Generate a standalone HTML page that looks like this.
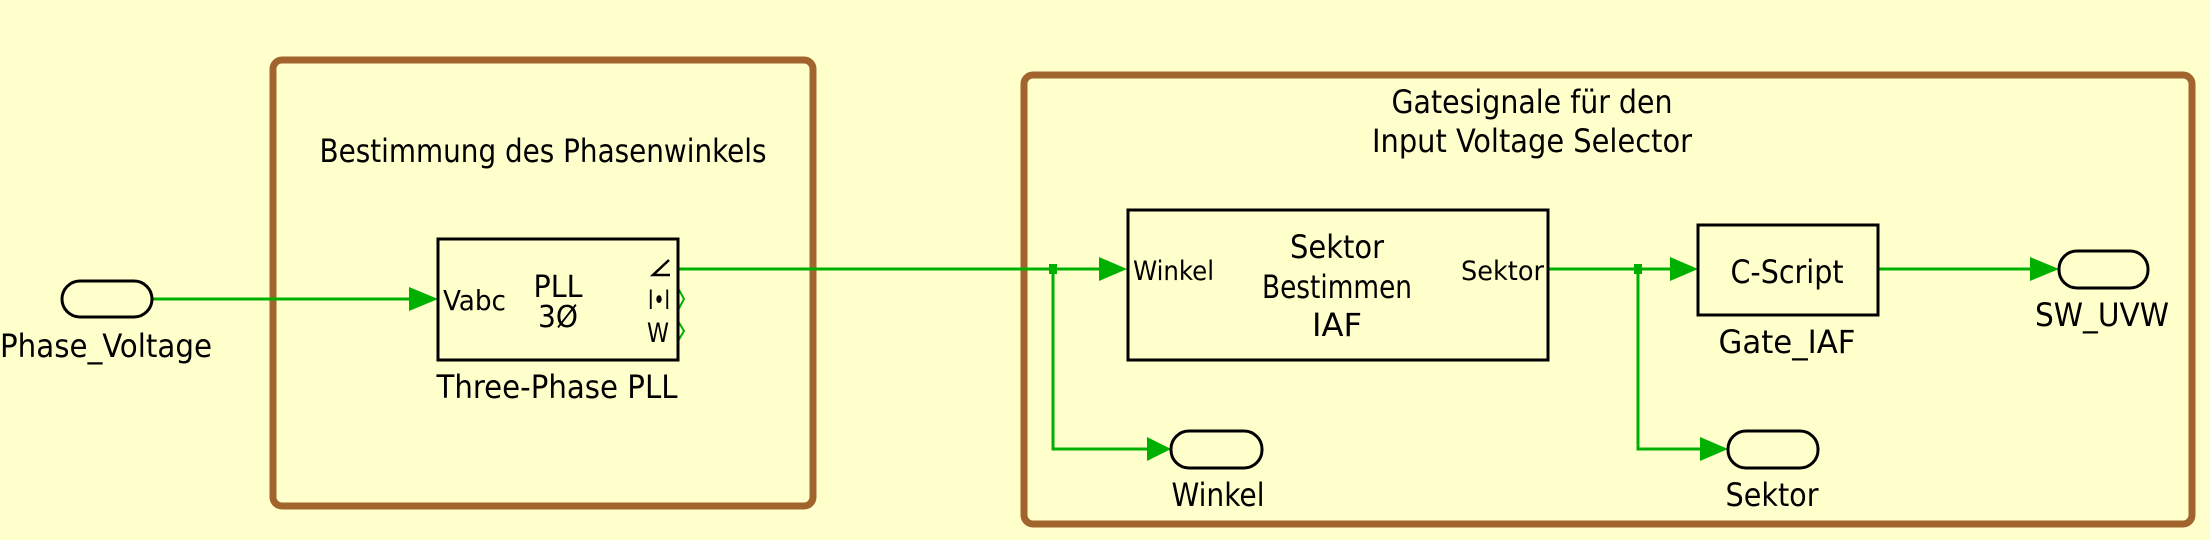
<!DOCTYPE html>
<html><head><meta charset="utf-8"><style>
html,body{margin:0;padding:0;background:#ffffcc;}
svg{display:block}
text{font-family:"DejaVu Sans Condensed","DejaVu Sans","Liberation Sans",sans-serif;fill:#000;}
</style></head><body>
<svg width="2210" height="540" viewBox="0 0 2210 540" xmlns="http://www.w3.org/2000/svg">
<rect width="2210" height="540" fill="#ffffcc"/>
<rect x="273" y="60" width="540" height="446" rx="9" fill="none" stroke="#a0642c" stroke-width="7"/>
<rect x="1024" y="75" width="1168" height="449" rx="9" fill="none" stroke="#a0642c" stroke-width="7"/>
<text x="543" y="162" font-size="32" text-anchor="middle" textLength="447" lengthAdjust="spacingAndGlyphs">Bestimmung des Phasenwinkels</text>
<text x="1532" y="113" font-size="32" text-anchor="middle" textLength="281" lengthAdjust="spacingAndGlyphs">Gatesignale für den</text>
<text x="1532" y="152" font-size="32" text-anchor="middle" textLength="320" lengthAdjust="spacingAndGlyphs">Input Voltage Selector</text>

<g stroke="#00b000" stroke-width="3" fill="none">
<line x1="152" y1="299" x2="412" y2="299"/>
<line x1="678" y1="269" x2="1102" y2="269"/>
<polyline points="1053,269 1053,449 1150,449"/>
<line x1="1548" y1="269" x2="1672" y2="269"/>
<polyline points="1638,269 1638,449 1700,449"/>
<line x1="1878" y1="269" x2="2032" y2="269"/>
<polyline points="678,288 684,299 678,310" stroke-width="2"/>
<polyline points="678,321 684,331 678,341" stroke-width="2"/>
</g>
<g fill="#00b000">
<polygon points="409,287 438,299 409,311"/>
<polygon points="1099,257 1127,269 1099,281"/>
<polygon points="1147,437 1171,449 1147,461"/>
<polygon points="1670,257 1698,269 1670,281"/>
<polygon points="1700,437 1728,449 1700,461"/>
<polygon points="2030,257 2059,269 2030,281"/>
<rect x="1049" y="264" width="8" height="10"/>
<rect x="1634" y="264" width="8" height="10"/>
</g>

<g fill="none" stroke="#000" stroke-width="3">
<rect x="62" y="281" width="90" height="36" rx="18"/>
<rect x="1171" y="431" width="91" height="37" rx="18"/>
<rect x="1728" y="431" width="90" height="37" rx="18"/>
<rect x="2059" y="251" width="89" height="37" rx="18"/>
<rect x="438" y="239" width="240" height="121"/>
<rect x="1128" y="210" width="420" height="150"/>
<rect x="1698" y="225" width="180" height="90"/>
</g>

<text x="106" y="357" font-size="32" text-anchor="middle" textLength="212" lengthAdjust="spacingAndGlyphs">Phase_Voltage</text>
<text x="557" y="398" font-size="32" text-anchor="middle" textLength="241" lengthAdjust="spacingAndGlyphs">Three-Phase PLL</text>
<text x="443" y="310" font-size="28" textLength="63" lengthAdjust="spacingAndGlyphs">Vabc</text>
<text x="558" y="297" font-size="30" text-anchor="middle" textLength="49" lengthAdjust="spacingAndGlyphs">PLL</text>
<text x="558" y="327" font-size="30" text-anchor="middle" textLength="40" lengthAdjust="spacingAndGlyphs">3Ø</text>
<polyline points="669,260 653,275 670,275" fill="none" stroke="#000" stroke-width="2.5"/>
<text x="648" y="309" font-size="27" textLength="22" lengthAdjust="spacingAndGlyphs">I•I</text>
<text x="647" y="342" font-size="27" textLength="22" lengthAdjust="spacingAndGlyphs">W</text>

<text x="1133" y="280" font-size="27" textLength="81" lengthAdjust="spacingAndGlyphs">Winkel</text>
<text x="1544" y="280" font-size="27" text-anchor="end" textLength="83" lengthAdjust="spacingAndGlyphs">Sektor</text>
<text x="1337" y="258" font-size="32" text-anchor="middle" textLength="94" lengthAdjust="spacingAndGlyphs">Sektor</text>
<text x="1337" y="298" font-size="32" text-anchor="middle" textLength="150" lengthAdjust="spacingAndGlyphs">Bestimmen</text>
<text x="1337" y="336" font-size="32" text-anchor="middle" textLength="50" lengthAdjust="spacingAndGlyphs">IAF</text>

<text x="1787" y="283" font-size="32" text-anchor="middle" textLength="113" lengthAdjust="spacingAndGlyphs">C-Script</text>
<text x="1787" y="353" font-size="32" text-anchor="middle" textLength="137" lengthAdjust="spacingAndGlyphs">Gate_IAF</text>
<text x="2102" y="326" font-size="32" text-anchor="middle" textLength="134" lengthAdjust="spacingAndGlyphs">SW_UVW</text>
<text x="1218" y="506" font-size="32" text-anchor="middle" textLength="93" lengthAdjust="spacingAndGlyphs">Winkel</text>
<text x="1772" y="506" font-size="32" text-anchor="middle" textLength="93" lengthAdjust="spacingAndGlyphs">Sektor</text>
</svg>
</body></html>
